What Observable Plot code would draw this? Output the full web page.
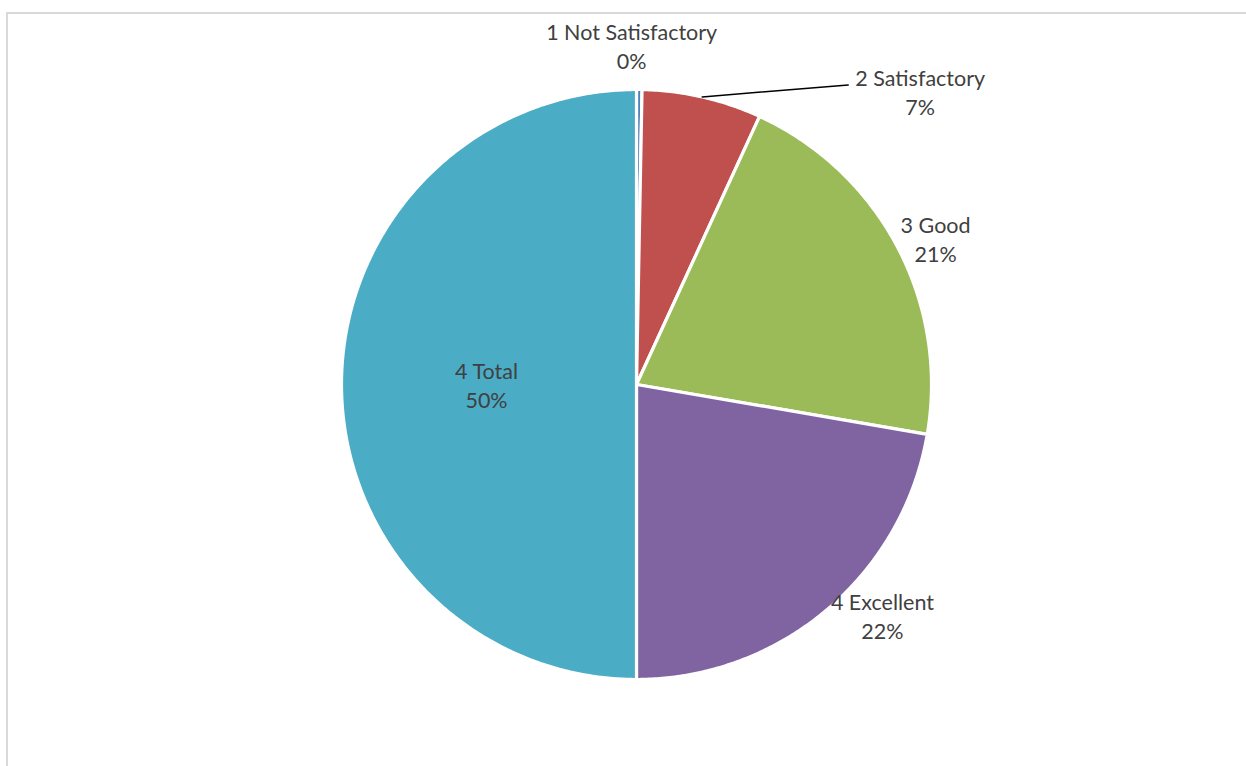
<!DOCTYPE html>
<html>
<head>
<meta charset="utf-8">
<script src="https://cdn.jsdelivr.net/npm/d3@7"></script>
<script src="https://cdn.jsdelivr.net/npm/@observablehq/plot@0.6"></script>
<style>
  html, body { margin: 0; padding: 0; background: #fff; }
  #wrap { position: relative; width: 1246px; height: 766px; overflow: hidden; }
  #chart { position: absolute; left: 0; top: 0; }
  #frame { position: absolute; left: 6px; top: 12px; width: 1300px; height: 800px;
           border-left: 2px solid #d9d9d9; border-top: 2px solid #d9d9d9; pointer-events: none; }
</style>
</head>
<body>
<div id="wrap"><div id="chart"></div><div id="frame"></div></div>
<script>
// ---- data ----
const categories = ["1 Not Satisfactory", "2 Satisfactory", "3 Good", "4 Excellent", "4 Total"];
const shares = [0.003, 0.0655, 0.2085, 0.2230, 0.5000];
const colors = ["#4F81BD", "#C0504D", "#9BBB59", "#8064A2", "#4BACC6"];

// ---- label layout (radius factor along mid-angle, pixel nudge) ----
const labelRadius = [1.143, 1.0, 1.15, 1.146, 0.505];
const labelNudge = [[-8, -2], [218, -6], [-1, 12], [28, -28], [-1, 0]];
const leaderSlice = 1;            // slice whose label uses a leader line
const leaderEndNudge = [-72, -6]; // leader end relative to label center (px)

const R = 295; // pixel radius
const W = 1246, H = 766;
const marginLeft = 341, marginTop = 89;
const marginRight = W - marginLeft - 2 * R;
const marginBottom = H - marginTop - 2 * R;

const arcs = d3.pie().sort(null).value(d => d)(shares);
const polar = (a, r) => ({x: r * Math.sin(a), y: r * Math.cos(a)});

// slice polygons
const slices = arcs.map((a, i) => {
  const pts = [{x: 0, y: 0}];
  const n = Math.max(2, Math.ceil((a.endAngle - a.startAngle) / (Math.PI / 360)));
  for (let k = 0; k <= n; k++) {
    pts.push(polar(a.startAngle + (a.endAngle - a.startAngle) * k / n, 1));
  }
  return pts;
});

// labels
const labels = arcs.map((a, i) => {
  const mid = (a.startAngle + a.endAngle) / 2;
  const p = polar(mid, labelRadius[i]);
  return {
    x: p.x + labelNudge[i][0] / R,
    y: p.y - labelNudge[i][1] / R,
    text: categories[i] + "\n" + Math.round(shares[i] * 100) + "%"
  };
});

const la = arcs[leaderSlice];
const leaderStart = polar((la.startAngle + la.endAngle) / 2, 1.0);
const leaderEnd = {x: labels[leaderSlice].x + leaderEndNudge[0] / R,
                   y: labels[leaderSlice].y - leaderEndNudge[1] / R};

const plot = Plot.plot({
  width: W, height: H,
  marginLeft, marginRight, marginTop, marginBottom,
  x: {domain: [-1, 1], axis: null},
  y: {domain: [-1, 1], axis: null},
  style: {background: "transparent", fontFamily: "Lato, 'Open Sans', sans-serif"},
  marks: [
    ...slices.map((pts, i) => Plot.line(pts, {
      x: "x", y: "y", curve: "linear-closed",
      fill: colors[i], stroke: "white", strokeWidth: 3.2, strokeLinejoin: "round"
    })),
    Plot.line([leaderStart, leaderEnd], {x: "x", y: "y", stroke: "#000", strokeWidth: 1.5}),
    Plot.text(labels, {
      x: "x", y: "y", text: "text",
      fontSize: 21.5, lineHeight: 1.35, fill: "#404040",
      textAnchor: "middle", lineAnchor: "middle"
    })
  ]
});
document.getElementById("chart").appendChild(plot);
</script>
</body>
</html>
